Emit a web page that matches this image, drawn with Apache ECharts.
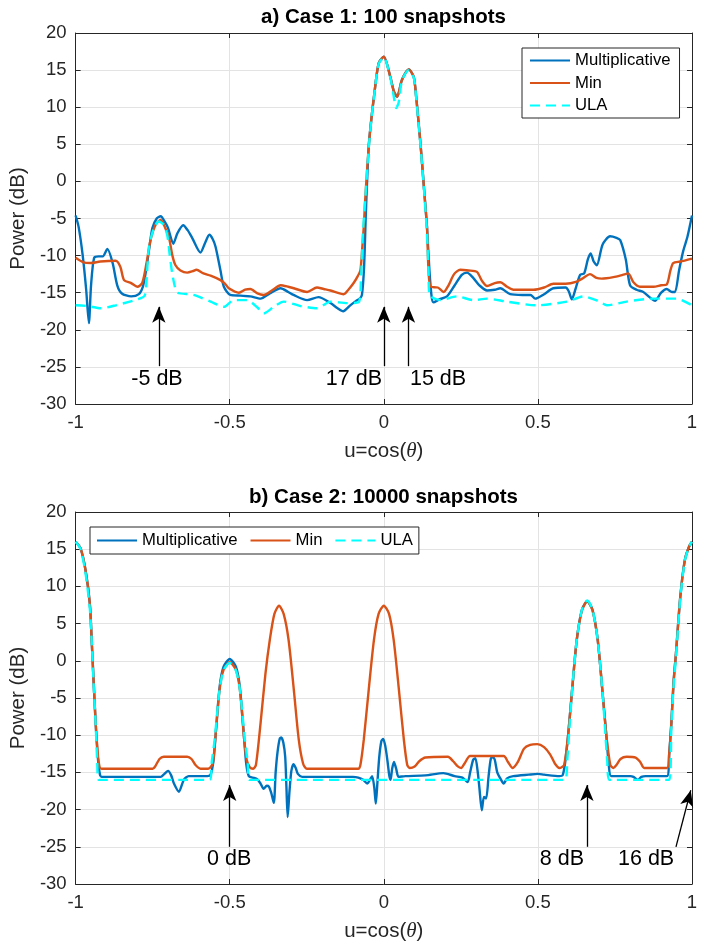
<!DOCTYPE html>
<html><head><meta charset="utf-8">
<script src="https://cdn.jsdelivr.net/npm/echarts@6/dist/echarts.min.js"></script>
<style>html,body{margin:0;padding:0;background:#fff}#c{width:702px;height:943px}</style>
</head><body><div id="c"></div>
<script>
// ---------- DATA (u = cos(theta), power in dB) ----------
const titles = ['a) Case 1: 100 snapshots', 'b) Case 2: 10000 snapshots'];
const seriesNames = ['Multiplicative', 'Min', 'ULA'];
const xTicks = [-1, -0.5, 0, 0.5, 1];
const yTicks = [-30, -25, -20, -15, -10, -5, 0, 5, 10, 15, 20];

const topMultiplicative = [[-1,-4.6],[-0.99,-6.2],[-0.977,-10],[-0.966,-14.5],[-0.957,-19.1],[-0.95,-14],[-0.94,-10.3],[-0.925,-10.1],[-0.912,-10.1],[-0.897,-9.1],[-0.88,-11],[-0.865,-14],[-0.85,-15.1],[-0.82,-15.5],[-0.795,-15.2],[-0.782,-14.2],[-0.773,-12.4],[-0.761,-9],[-0.751,-6.3],[-0.737,-5],[-0.724,-4.7],[-0.71,-5.5],[-0.7,-6.3],[-0.683,-8.4],[-0.67,-7],[-0.651,-5.9],[-0.636,-6.6],[-0.622,-7.6],[-0.595,-9.6],[-0.58,-8.3],[-0.566,-7.2],[-0.555,-7.8],[-0.546,-8.8],[-0.53,-12],[-0.519,-14.2],[-0.498,-15.3],[-0.465,-15.4],[-0.433,-15.5],[-0.4,-15.8],[-0.37,-15.1],[-0.335,-14.4],[-0.31,-14.9],[-0.293,-15.3],[-0.249,-16],[-0.212,-15.6],[-0.173,-16.4],[-0.15,-17.1],[-0.132,-17.5],[-0.109,-16.7],[-0.09,-16.1],[-0.078,-15.8],[-0.071,-15.3],[-0.064,-11.5],[-0.058,-4],[-0.049,4.7],[-0.04,8.6],[-0.032,11.4],[-0.017,15.9],[0,16.8],[0.021,14.1],[0.032,12.2],[0.043,11.4],[0.059,13.7],[0.081,15.1],[0.097,14.1],[0.105,11.4],[0.11,9.2],[0.117,6],[0.124,2.5],[0.132,-1.8],[0.14,-6.1],[0.148,-12],[0.155,-15.5],[0.161,-16.3],[0.18,-15.9],[0.205,-15.5],[0.23,-14],[0.253,-12.6],[0.27,-12.3],[0.29,-13],[0.31,-14],[0.335,-14.7],[0.36,-14.6],[0.378,-14.4],[0.41,-15.2],[0.45,-15.3],[0.476,-15.3],[0.491,-15.8],[0.52,-15.2],[0.55,-14.4],[0.59,-14.3],[0.6,-14.8],[0.61,-15.9],[0.622,-14.5],[0.637,-12.6],[0.65,-12.4],[0.662,-10.5],[0.671,-9.7],[0.681,-10.8],[0.691,-11.3],[0.71,-8.5],[0.734,-7.4],[0.755,-7.6],[0.767,-7.9],[0.785,-10.5],[0.799,-14],[0.82,-14.6],[0.842,-14.9],[0.862,-15.6],[0.88,-16.1],[0.9,-15],[0.918,-14.5],[0.935,-14.9],[0.945,-14.9],[0.958,-12],[0.972,-9.3],[0.985,-7.5],[1,-4.6]];

const topMin = [[-1,-10.3],[-0.975,-10.9],[-0.951,-11],[-0.92,-10.8],[-0.87,-10.7],[-0.855,-11.5],[-0.843,-13.3],[-0.82,-13.7],[-0.8,-14.2],[-0.784,-13.7],[-0.77,-11],[-0.757,-7.9],[-0.74,-5.8],[-0.724,-5.2],[-0.71,-6.2],[-0.697,-7.6],[-0.686,-10],[-0.676,-11.3],[-0.66,-12],[-0.638,-12.3],[-0.62,-12.1],[-0.608,-11.9],[-0.585,-12.4],[-0.562,-12.7],[-0.53,-13.3],[-0.515,-13.8],[-0.503,-14.4],[-0.47,-15],[-0.45,-14.6],[-0.433,-14.5],[-0.41,-15.1],[-0.39,-15.3],[-0.36,-14.6],[-0.335,-14],[-0.31,-14.2],[-0.292,-14.4],[-0.249,-14.9],[-0.217,-14.3],[-0.195,-14.5],[-0.173,-14.7],[-0.13,-15.2],[-0.115,-14.6],[-0.098,-13.7],[-0.085,-12.8],[-0.076,-12],[-0.07,-9],[-0.065,-6.1],[-0.06,-2.1],[-0.049,4.7],[-0.04,8.6],[-0.032,11.4],[-0.017,15.9],[0,16.8],[0.021,14.1],[0.032,12.2],[0.043,11.4],[0.059,13.7],[0.081,15.1],[0.097,14.1],[0.105,11.4],[0.11,9.2],[0.117,6],[0.124,2.5],[0.132,-1.8],[0.14,-6.1],[0.145,-12],[0.152,-14.2],[0.175,-14.3],[0.194,-14.9],[0.21,-14],[0.228,-12.5],[0.248,-11.9],[0.275,-12],[0.302,-12.2],[0.32,-13.5],[0.335,-14.1],[0.36,-13.7],[0.378,-13.6],[0.4,-14.2],[0.421,-14.6],[0.486,-14.6],[0.52,-14.3],[0.55,-13.8],[0.59,-13.8],[0.626,-13.5],[0.648,-13],[0.669,-12.5],[0.69,-13],[0.707,-13.1],[0.745,-12.9],[0.775,-12.6],[0.793,-12.4],[0.81,-13.6],[0.831,-14.2],[0.875,-14.2],[0.9,-14],[0.918,-13.9],[0.93,-12],[0.939,-11],[0.962,-10.8],[1,-10.4]];

const topULA = [[-1,-16.7],[-0.96,-16.8],[-0.919,-17.1],[-0.87,-16.7],[-0.8,-15.9],[-0.776,-15.4],[-0.768,-12],[-0.762,-8.8],[-0.745,-6.2],[-0.73,-5.4],[-0.716,-5.8],[-0.703,-7.2],[-0.695,-9.8],[-0.687,-12.3],[-0.678,-14.2],[-0.67,-15],[-0.617,-15.3],[-0.562,-16.2],[-0.519,-16.9],[-0.487,-16],[-0.443,-16],[-0.41,-17],[-0.39,-17.8],[-0.357,-16.9],[-0.325,-16.2],[-0.27,-16.8],[-0.217,-17.1],[-0.173,-16.2],[-0.119,-16.4],[-0.082,-16.3],[-0.074,-13],[-0.068,-7],[-0.06,-2.3],[-0.049,4.5],[-0.04,8.5],[-0.032,11.3],[-0.017,15.8],[0,16.7],[0.021,14],[0.032,11.5],[0.04,9.9],[0.048,10.6],[0.059,13.6],[0.081,15],[0.097,14],[0.105,11.3],[0.11,9],[0.117,5.8],[0.124,2.3],[0.132,-2],[0.14,-7],[0.145,-12],[0.148,-15.3],[0.183,-16],[0.237,-15.5],[0.291,-16],[0.335,-15.8],[0.399,-16.2],[0.496,-16.7],[0.594,-16.2],[0.648,-15.5],[0.7,-16.2],[0.724,-16.7],[0.788,-16.2],[0.875,-15.8],[0.95,-15.8],[1,-16.7]];

const bottomMultiplicative = [[-1,16],[-0.984,15.1],[-0.968,12.2],[-0.954,7.7],[-0.948,2.8],[-0.942,-2.5],[-0.935,-8.4],[-0.928,-13],[-0.921,-15.3],[-0.915,-15.6],[-0.74,-15.6],[-0.724,-15.6],[-0.712,-15.2],[-0.7,-14.8],[-0.69,-15.4],[-0.681,-16.5],[-0.665,-17.6],[-0.649,-16],[-0.633,-15.5],[-0.573,-15.5],[-0.562,-15.3],[-0.553,-13.5],[-0.547,-10.6],[-0.533,-3.6],[-0.52,-0.8],[-0.5,0.25],[-0.48,-0.8],[-0.467,-3.6],[-0.453,-10.6],[-0.446,-14],[-0.438,-15.5],[-0.425,-15.7],[-0.411,-15.9],[-0.4,-16.5],[-0.39,-17.2],[-0.38,-16.8],[-0.373,-16.9],[-0.365,-17.8],[-0.357,-19.1],[-0.351,-15],[-0.345,-12.3],[-0.338,-10.5],[-0.333,-10.3],[-0.326,-11],[-0.32,-12.9],[-0.316,-17],[-0.312,-21],[-0.306,-17.5],[-0.3,-14.8],[-0.293,-13.9],[-0.285,-14.5],[-0.279,-15.2],[-0.265,-15.6],[-0.1,-15.6],[-0.083,-15.7],[-0.067,-16],[-0.054,-16.5],[-0.045,-16],[-0.038,-15.5],[-0.031,-17],[-0.026,-19.2],[-0.021,-16.5],[-0.015,-13],[-0.008,-10.8],[-0.002,-10.5],[0.005,-11.5],[0.012,-13.5],[0.018,-15.5],[0.022,-16],[0.027,-14.5],[0.033,-13.6],[0.04,-14.5],[0.048,-15.6],[0.07,-15.5],[0.135,-15.4],[0.193,-15.1],[0.23,-15.5],[0.255,-15.7],[0.272,-16.3],[0.28,-15],[0.29,-13.3],[0.297,-13.1],[0.304,-14.7],[0.31,-17],[0.318,-20.1],[0.325,-18.3],[0.332,-18.5],[0.34,-15.5],[0.347,-13.2],[0.353,-12.9],[0.36,-13.3],[0.368,-15],[0.378,-15.8],[0.389,-16.5],[0.4,-15.8],[0.42,-15.5],[0.47,-15.3],[0.5,-15.2],[0.52,-15.3],[0.57,-15.5],[0.58,-15.4],[0.588,-13.8],[0.598,-10],[0.611,-3.9],[0.626,2.8],[0.643,6.9],[0.66,8],[0.677,6.9],[0.694,2.8],[0.709,-3.9],[0.722,-10],[0.73,-14],[0.738,-15.5],[0.8,-15.5],[0.81,-15.6],[0.824,-16],[0.836,-15.6],[0.85,-15.5],[0.919,-15.5],[0.926,-12.5],[0.933,-8.4],[0.94,-3],[0.948,1],[0.962,8.6],[0.977,13.6],[0.991,15.4],[1,16]];

const bottomMin = [[-1,16],[-0.984,15.1],[-0.968,12.2],[-0.954,7.7],[-0.948,2.8],[-0.942,-2.5],[-0.935,-8.4],[-0.928,-12.5],[-0.922,-14.3],[-0.915,-14.5],[-0.75,-14.5],[-0.742,-14.2],[-0.728,-13.2],[-0.714,-12.9],[-0.638,-12.9],[-0.624,-13.2],[-0.611,-14],[-0.595,-14.5],[-0.57,-14.5],[-0.557,-14],[-0.553,-13.3],[-0.547,-10.6],[-0.533,-3.9],[-0.52,-1.2],[-0.5,-0.2],[-0.48,-1.2],[-0.467,-3.9],[-0.453,-10.6],[-0.445,-13.3],[-0.435,-14.3],[-0.424,-14.5],[-0.415,-14],[-0.4,-8.4],[-0.384,-1.7],[-0.37,2.8],[-0.355,6.3],[-0.34,7.4],[-0.325,6.3],[-0.309,2.8],[-0.292,-3.9],[-0.276,-10.6],[-0.262,-13.8],[-0.25,-14.5],[-0.083,-14.5],[-0.076,-14],[-0.065,-10.6],[-0.049,-3.9],[-0.032,2.8],[-0.017,6.3],[0,7.4],[0.017,6.3],[0.032,2.8],[0.049,-3.9],[0.065,-10.6],[0.076,-14],[0.084,-14.4],[0.1,-14.2],[0.115,-13.5],[0.135,-13],[0.208,-12.9],[0.225,-13.5],[0.24,-14.2],[0.251,-14.4],[0.262,-13.8],[0.28,-12.8],[0.389,-12.8],[0.403,-13.6],[0.418,-14.4],[0.435,-13.6],[0.455,-11.8],[0.475,-11.3],[0.498,-11.2],[0.52,-11.6],[0.54,-12.6],[0.555,-13.8],[0.57,-14.4],[0.585,-14],[0.598,-10],[0.611,-3.9],[0.626,2.8],[0.643,6.8],[0.66,8],[0.677,6.8],[0.694,2.8],[0.709,-3.9],[0.722,-10],[0.735,-14],[0.745,-14.4],[0.755,-14],[0.768,-13.2],[0.788,-12.9],[0.817,-13],[0.832,-13.6],[0.845,-14.4],[0.919,-14.4],[0.926,-12.5],[0.933,-8.4],[0.94,-3],[0.948,1],[0.962,8.6],[0.977,13.6],[0.991,15.4],[1,16]];

const bottomULA = [[-1,16],[-0.984,15],[-0.968,11.8],[-0.954,7],[-0.948,2.8],[-0.942,-2.8],[-0.935,-8.6],[-0.93,-13.5],[-0.925,-16],[-0.565,-16],[-0.558,-13.5],[-0.549,-10.6],[-0.533,-3.9],[-0.52,-1.3],[-0.5,-0.3],[-0.48,-1.3],[-0.467,-3.9],[-0.451,-10.6],[-0.442,-13.5],[-0.435,-16],[0.588,-16],[0.595,-13.5],[0.604,-8],[0.611,-3.9],[0.626,2.8],[0.643,6.9],[0.66,8.1],[0.677,6.9],[0.694,2.8],[0.709,-3.9],[0.716,-8],[0.725,-13.5],[0.732,-16],[0.926,-16],[0.933,-9],[0.94,-3.5],[0.948,0.5],[0.962,8.4],[0.977,13.5],[0.991,15.4],[1,16]];

// annotations: arrow [x0, y0, x1, y1] and labels [x, y, text]
const topArrows = [[-0.73,-24.9,-0.73,-16.9],[0,-24.9,0,-16.9],[0.08,-24.9,0.08,-16.9]];
const topLabels = [[-0.736,-26.6,'-5 dB'],[-0.097,-26.6,'17 dB'],[0.176,-26.6,'15 dB']];
const bottomArrows = [[-0.5,-25,-0.5,-16.7],[0.659,-25,0.659,-16.7],[0.948,-25,0.996,-17.4]];
const bottomLabels = [[-0.502,-26.6,'0 dB'],[0.578,-26.6,'8 dB'],[0.851,-26.6,'16 dB']];

// ---------- CHART ----------
const FONT = "'Liberation Sans', Arial, Helvetica, sans-serif";
const AX = '#262626';
const colors = ['#0072BD', '#D95319', '#00FFFF'];
const grids = [
  {left: 75, top: 33, width: 617, height: 371},
  {left: 75, top: 512, width: 617, height: 372}
];

function mainX(gi) {
  return {
    type: 'value', gridIndex: gi, min: xTicks[0], max: xTicks[xTicks.length-1],
    interval: xTicks[1]-xTicks[0], position: 'bottom',
    name: 'u=cos({i|θ})', nameLocation: 'middle', nameGap: 37,
    nameTextStyle: {fontFamily: FONT, fontSize: 20.5, color: AX,
      rich: {i: {fontFamily: "'Liberation Serif', 'DejaVu Serif', serif", fontStyle: 'italic', fontSize: 21, color: AX}}},
    axisLine: {show: true, onZero: false, lineStyle: {color: AX, width: 1}},
    axisTick: {show: true, inside: true, length: 5, lineStyle: {color: AX}},
    axisLabel: {fontFamily: FONT, fontSize: 18.5, color: AX, margin: 9},
    splitLine: {show: true, lineStyle: {color: '#e3e3e3', width: 1}}
  };
}
function mainY(gi) {
  return {
    type: 'value', gridIndex: gi, min: yTicks[0], max: yTicks[yTicks.length-1],
    interval: yTicks[1]-yTicks[0], position: 'left',
    name: 'Power (dB)', nameLocation: 'middle', nameGap: 39,
    nameTextStyle: {fontFamily: FONT, fontSize: 20.5, color: AX},
    axisLine: {show: true, onZero: false, lineStyle: {color: AX, width: 1}},
    axisTick: {show: true, inside: true, length: 5, lineStyle: {color: AX}},
    axisLabel: {fontFamily: FONT, fontSize: 18.5, color: AX, margin: 9},
    splitLine: {show: true, lineStyle: {color: '#e3e3e3', width: 1}}
  };
}
function boxX(gi) {
  return {type: 'value', gridIndex: gi, min: xTicks[0], max: xTicks[xTicks.length-1],
    interval: xTicks[1]-xTicks[0], position: 'top',
    axisLine: {show: true, onZero: false, lineStyle: {color: AX, width: 1}},
    axisTick: {show: true, inside: true, length: 5, lineStyle: {color: AX}},
    axisLabel: {show: false}, splitLine: {show: false}};
}
function boxY(gi) {
  return {type: 'value', gridIndex: gi, min: yTicks[0], max: yTicks[yTicks.length-1],
    interval: yTicks[1]-yTicks[0], position: 'right',
    axisLine: {show: true, onZero: false, lineStyle: {color: AX, width: 1}},
    axisTick: {show: true, inside: true, length: 5, lineStyle: {color: AX}},
    axisLabel: {show: false}, splitLine: {show: false}};
}

function lineSeries(name, data, gi, ci) {
  return {
    name: name, type: 'line', xAxisIndex: gi, yAxisIndex: gi, data: data,
    symbol: 'none', smooth: 0.25, clip: true, animation: false, silent: true,
    lineStyle: {color: colors[ci], width: 2.4, type: ci === 2 ? [10, 6] : 'solid'},
    itemStyle: {color: colors[ci]}
  };
}
function annotSeries(gi, arrows, labels) {
  return {
    name: 'annot' + gi, type: 'scatter', xAxisIndex: gi, yAxisIndex: gi,
    data: labels.map(l => [l[0], l[1], l[2]]),
    symbolSize: 1, itemStyle: {color: 'rgba(0,0,0,0)'}, clip: false, silent: true, animation: false,
    label: {show: true, position: 'inside', formatter: p => p.value[2],
      fontFamily: FONT, fontSize: 21.5, color: '#000', opacity: 1},
    markLine: {
      silent: true, animation: false, symbol: ['none', 'arrow'],
      label: {show: false},
      lineStyle: {color: '#000', width: 1.3, type: 'solid'},
      data: arrows.map(a => [
        {coord: [a[0], a[1]], symbol: 'none'},
        {coord: [a[2], a[3]], symbol: 'arrow', symbolSize: [10, 16]}
      ])
    }
  };
}

const chart = echarts.init(document.getElementById('c'), null, {renderer: 'canvas'});
chart.setOption({
  animation: false,
  backgroundColor: '#fff',
  textStyle: {fontFamily: FONT},
  title: [
    {text: titles[0], left: 383.5, top: 7, textAlign: 'center', padding: 0,
      textStyle: {fontFamily: FONT, fontSize: 20.5, fontWeight: 'bold', color: '#000'}},
    {text: titles[1], left: 383.5, top: 487, textAlign: 'center', padding: 0,
      textStyle: {fontFamily: FONT, fontSize: 20.5, fontWeight: 'bold', color: '#000'}}
  ],
  grid: grids,
  xAxis: [mainX(0), mainX(1), boxX(0), boxX(1)],
  yAxis: [mainY(0), mainY(1), boxY(0), boxY(1)],
  legend: [
    {data: seriesNames, orient: 'vertical', left: 522, top: 48,
      padding: [4, 9, 4, 7], itemGap: 5.5, itemWidth: 40, itemHeight: 14,
      borderColor: AX, borderWidth: 1, backgroundColor: '#fff', selectedMode: false,
      itemStyle: {opacity: 0},
      textStyle: {fontFamily: FONT, fontSize: 16.7, color: '#000', lineHeight: 17}},
    {data: seriesNames, orient: 'horizontal', left: 90, top: 527,
      padding: [5, 6, 5, 6], itemGap: 12, itemWidth: 40, itemHeight: 14,
      borderColor: AX, borderWidth: 1, backgroundColor: '#fff', selectedMode: false,
      itemStyle: {opacity: 0},
      textStyle: {fontFamily: FONT, fontSize: 16.7, color: '#000', lineHeight: 17}}
  ],
  series: [
    lineSeries(seriesNames[0], topMultiplicative, 0, 0),
    lineSeries(seriesNames[1], topMin, 0, 1),
    lineSeries(seriesNames[2], topULA, 0, 2),
    lineSeries(seriesNames[0], bottomMultiplicative, 1, 0),
    lineSeries(seriesNames[1], bottomMin, 1, 1),
    lineSeries(seriesNames[2], bottomULA, 1, 2),
    annotSeries(0, topArrows, topLabels),
    annotSeries(1, bottomArrows, bottomLabels)
  ]
});
</script>
</body></html>
